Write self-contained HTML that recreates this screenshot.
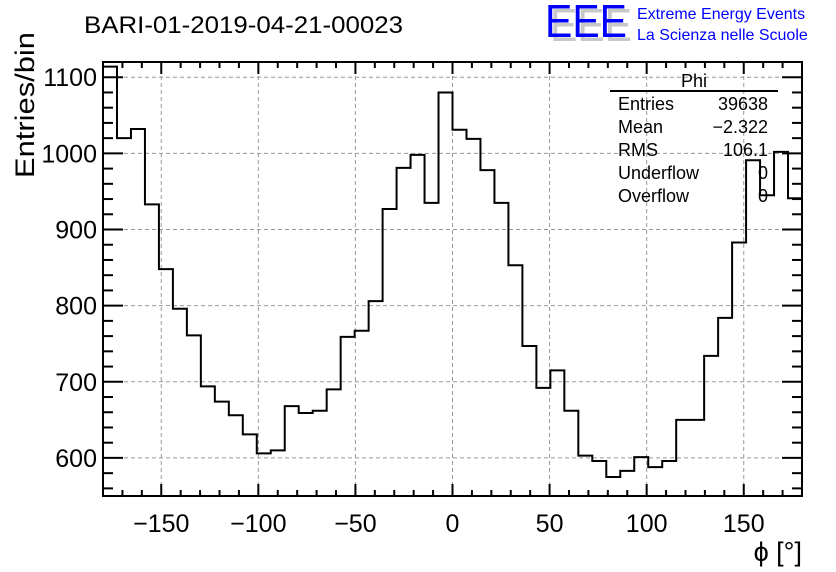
<!DOCTYPE html>
<html><head><meta charset="utf-8"><style>
html,body{margin:0;padding:0;background:#fff;}
svg{display:block;font-family:"Liberation Sans",sans-serif;}
</style></head><body>
<svg id="chart" width="836" height="572" viewBox="0 0 836 572">
<rect x="0" y="0" width="836" height="572" fill="#fff"/>
<text x="84" y="33" font-size="24" textLength="319" lengthAdjust="spacingAndGlyphs">BARI-01-2019-04-21-00023</text>
<g>
<text x="550" y="41" font-size="46" fill="#c8c8c8" textLength="82" lengthAdjust="spacingAndGlyphs">EEE</text>
<text x="545" y="37" font-size="46" fill="#0000ff" textLength="82" lengthAdjust="spacingAndGlyphs">EEE</text>
<text x="637" y="19" font-size="16" fill="#0000ff">Extreme Energy Events</text>
<text x="637" y="40" font-size="16" fill="#0000ff">La Scienza nelle Scuole</text>
</g>
<g id="grid"></g>
<g id="ticks"></g>
<g id="labels"></g>
<path id="hist" fill="none" stroke="#000" stroke-width="2"/>
<rect x="103" y="62" width="699" height="434" fill="none" stroke="#000" stroke-width="2"/>
<text transform="translate(34,32) rotate(-90)" font-size="27" text-anchor="end" textLength="146" lengthAdjust="spacingAndGlyphs">Entries/bin</text>
<text x="802" y="561" font-size="27" text-anchor="end">ϕ [°]</text>
<g font-size="18">
<text x="694" y="87" text-anchor="middle">Phi</text>
<line x1="610" y1="91" x2="778" y2="91" stroke="#000" stroke-width="2"/>
<text x="618" y="110">Entries</text><text x="768" y="110" text-anchor="end">39638</text>
<text x="618" y="133">Mean</text><text x="768" y="133" text-anchor="end">−2.322</text>
<text x="618" y="156">RMS</text><text x="768" y="156" text-anchor="end">106.1</text>
<text x="618" y="179">Underflow</text><text x="768" y="179" text-anchor="end">0</text>
<text x="618" y="202">Overflow</text><text x="768" y="202" text-anchor="end">0</text>
</g>
</svg>
<script>
const counts = [1114,1020,1032,933,848,796,761,694,674,656,631,606,610,668,659,662,690,759,767,806,927,981,998,935,1080,
1031,1019,978,935,853,747,692,715,662,603,596,575,583,601,588,596,650,650,734,784,883,991,945,1002,941];
const xTicks = [-150,-100,-50,0,50,100,150];
const yTicks = [600,700,800,900,1000,1100];
const xMin=-180,xMax=180,yMin=550,yMax=1120;
const L=103,R=802,T=62,B=496;
const NS="http://www.w3.org/2000/svg";
function sx(v){return L+(v-xMin)/(xMax-xMin)*(R-L);}
function sy(v){return B-(v-yMin)/(yMax-yMin)*(B-T);}
function mk(tag,attrs,parent){const e=document.createElementNS(NS,tag);for(const k in attrs)e.setAttribute(k,attrs[k]);parent.appendChild(e);return e;}
const grid=document.getElementById('grid'),ticks=document.getElementById('ticks'),labels=document.getElementById('labels');
xTicks.forEach(v=>{
 const g=mk('line',{x1:sx(v),x2:sx(v),y1:T,y2:B,stroke:'#999','stroke-dasharray':'4,3','stroke-width':1},grid);
 
 
 const t=mk('text',{x:sx(v),y:532,'font-size':25,'text-anchor':'middle'},labels);
 
 
 t.textContent=(v<0?'−'+(-v):String(v));
});
yTicks.forEach(v=>{
 const g=mk('line',{x1:L,x2:R,y1:sy(v),y2:sy(v),stroke:'#999','stroke-dasharray':'4,3','stroke-width':1},grid);
 
 
 const t=mk('text',{x:97,y:sy(v)+9,'font-size':25,'text-anchor':'end'},labels);
 
 
 t.textContent=String(v);
});
for(let v=-180;v<=180;v+=10){
 const len=(v%50===0)?12:6;
 mk('line',{x1:sx(v),x2:sx(v),y1:B,y2:B-len,stroke:'#000','stroke-width':2},ticks);
 mk('line',{x1:sx(v),x2:sx(v),y1:T,y2:T+len,stroke:'#000','stroke-width':2},ticks);
}
for(let v=560;v<=1120;v+=20){
 const len=(v%100===0)?20:10;
 mk('line',{x1:L,x2:L+len,y1:sy(v),y2:sy(v),stroke:'#000','stroke-width':2},ticks);
 mk('line',{x1:R,x2:R-len,y1:sy(v),y2:sy(v),stroke:'#000','stroke-width':2},ticks);
}
const w=(xMax-xMin)/counts.length;
let d='';
counts.forEach((c,i)=>{
 const x0=sx(xMin+i*w),x1=sx(xMin+(i+1)*w),y=sy(c);
 d+=(i===0?'M'+x0+','+y:'L'+x0+','+y)+'L'+x1+','+y;
});
document.getElementById('hist').setAttribute('d',d);
</script>
</body></html>
